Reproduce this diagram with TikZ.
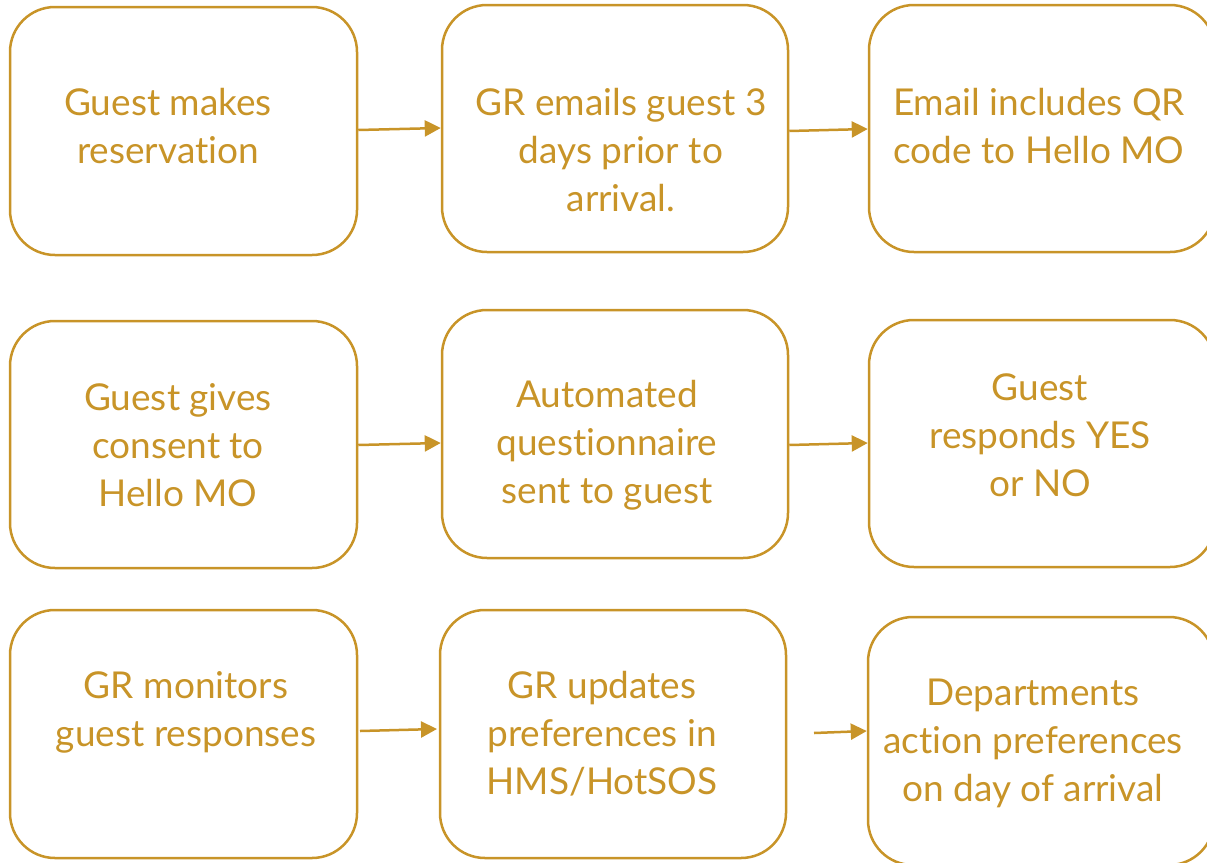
\documentclass[tikz,border=0pt]{standalone}
\usepackage{fontspec}
\setmainfont[RawFeature={-liga;-dlig}]{Lato}
\usetikzlibrary{arrows.meta}
\definecolor{gold}{RGB}{200,148,40}
\tikzset{
  box/.style={draw=gold, line width=2.5pt, rounded corners=45pt, inner sep=0pt},
  lbl/.style={text=gold, align=center, font=\fontsize{37}{48}\selectfont, inner sep=0pt},
  arr/.style={draw=gold, line width=2.5pt, -{Triangle[length=16pt,width=16pt]}}
}
\begin{document}
\begin{tikzpicture}[x=1pt,y=-1pt]
\useasboundingbox (0,0) rectangle (1207,862);
% boxes
\node[box, minimum width=347pt, minimum height=248pt] (b11) at (183.5,131) {};
\node[box, minimum width=346pt, minimum height=247pt] (b12) at (615,128.5) {};
\node[box, minimum width=346pt, minimum height=247pt] (b13) at (1042,128.5) {};
\node[box, minimum width=347pt, minimum height=247pt] (b21) at (183.5,444.5) {};
\node[box, minimum width=346pt, minimum height=248pt] (b22) at (615,434) {};
\node[box, minimum width=346pt, minimum height=247pt] (b23) at (1042,443.5) {};
\node[box, minimum width=347pt, minimum height=248pt] (b31) at (183.5,734) {};
\node[box, minimum width=346pt, minimum height=248pt] (b32) at (613,734) {};
\node[box, minimum width=346pt, minimum height=248pt] (b33) at (1041,741) {};
% texts
\node[lbl] (t11) at (168,126) {Guest makes\\reservation};
\node[lbl] (t12) at (621,150) {GR emails guest 3\\days prior to\\arrival.};
\node[lbl] (t13) at (1039,126) {Email includes QR\\code to Hello MO};
\node[lbl] (t21) at (178,445) {Guest gives\\consent to\\Hello MO};
\node[lbl] (t22) at (607,445) {Automated\\questionnaire\\sent to guest};
\node[lbl] (t23) at (1040,435) {Guest\\responds YES\\or NO};
\node[lbl] (t31) at (186,712) {GR monitors\\guest responses};
\node[lbl] (t32) at (602,734) {GR updates\\preferences in\\HMS/HotSOS};
\node[lbl] (t33) at (1033,743) {Departments\\action preferences\\on day of arrival};
% arrows
\coordinate (a3s) at (360,731);
\coordinate (a3e) at (437,729);
\coordinate (a4s) at (814,733);
\draw[arr] (b11.east |- 0,130) -- (b12.west |- 0,128);
\draw[arr] (b12.east |- 0,131) -- (b13.west |- 0,129);
\draw[arr] (b21.east |- 0,445) -- (b22.west |- 0,443);
\draw[arr] (b22.east |- 0,445) -- (b23.west |- 0,443);
\draw[arr] (a3s) -- (a3e);
\draw[arr] (a4s) -- (b33.west |- 0,731);
\end{tikzpicture}
\end{document}
